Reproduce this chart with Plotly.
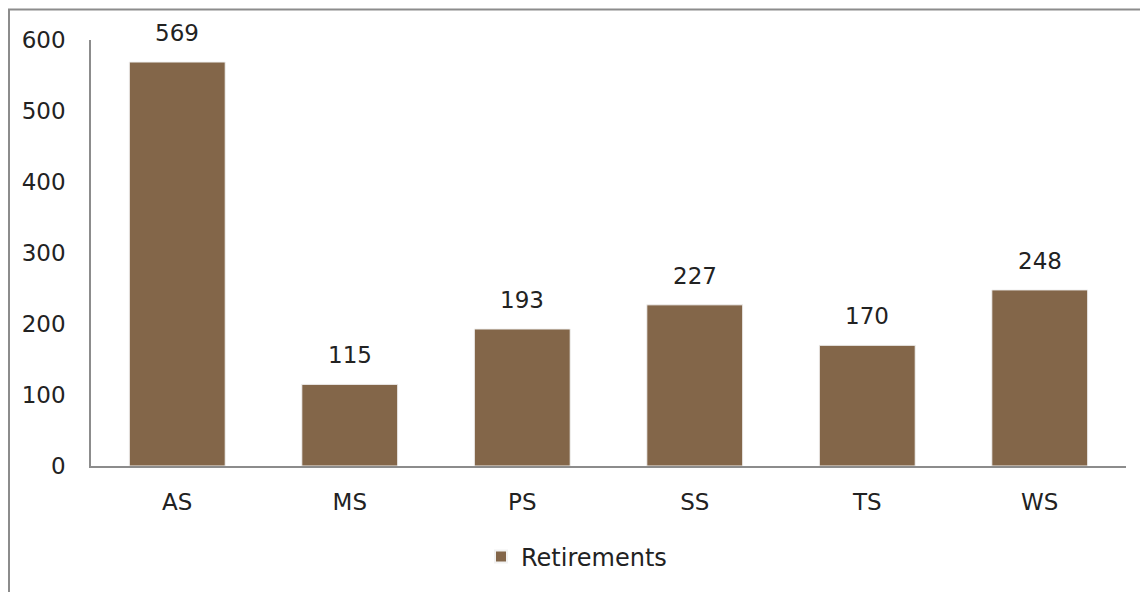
import plotly.graph_objects as go

categories = ["AS", "MS", "PS", "SS", "TS", "WS"]
retirements = [569, 115, 193, 227, 170, 248]
y_ticks = [0, 100, 200, 300, 400, 500, 600]

OFF = 8  # page body margin
W, H = 1148 - OFF, 592 - OFF
L, R, T, B = 91 - OFF, 1126 - OFF, 40 - OFF, 466 - OFF
pw, ph = R - L, B - T

def px_x(x):
    return (x - OFF - L) / pw

def px_y(y):
    return (B - (y - OFF)) / ph

FONT = "DejaVu Sans, Noto Sans, sans-serif"

fig = go.Figure()
fig.add_trace(go.Bar(
    x=categories, y=retirements, name="Retirements",
    marker=dict(color="#836649", line=dict(color="#f2f2f2", width=1)),
    showlegend=True,
))

for c, v in zip(categories, retirements):
    fig.add_annotation(x=c, y=v, text=str(v), showarrow=False,
                       yanchor="middle", yshift=29,
                       font=dict(size=23, color="#222222", family=FONT))

fig.update_layout(
    width=W, height=H,
    margin=dict(l=L, r=W - R, t=T, b=H - B),
    paper_bgcolor="white", plot_bgcolor="white",
    bargap=0.444,
    font=dict(family=FONT, size=23, color="#222222"),
    xaxis=dict(showline=True, linecolor="#8c8c8c", linewidth=2, ticks="",
               showgrid=False, tickfont=dict(size=23), ticklabelstandoff=14),
    yaxis=dict(range=[0, 600], tickvals=y_ticks, showline=True, linecolor="#8c8c8c",
               linewidth=1.5, showgrid=False, zeroline=False, ticks="",
               tickfont=dict(size=23), ticklabelstandoff=19),
    legend=dict(orientation="h", x=px_x(481), xanchor="left", y=px_y(557), yanchor="middle",
                font=dict(size=24), itemsizing="constant", itemwidth=30),
    shapes=[dict(type="rect", xref="paper", yref="paper",
                 x0=px_x(OFF + 1), x1=px_x(1200), y0=px_y(650), y1=px_y(OFF + 1.5),
                 line=dict(color="#8c8c8c", width=2), fillcolor="rgba(0,0,0,0)", layer="below")],
)

fig.write_html("out.html")
